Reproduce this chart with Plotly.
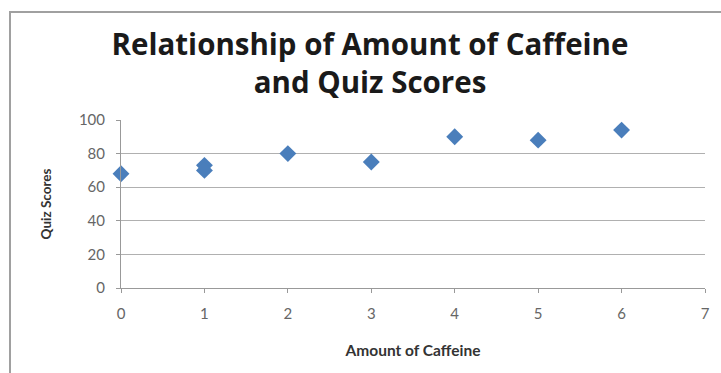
import plotly.graph_objects as go

caffeine = [0, 1, 1, 2, 3, 4, 5, 6]
scores = [68, 73, 70, 80, 75, 90, 88, 94]
x_ticks = [0, 1, 2, 3, 4, 5, 6, 7]
y_ticks = [0, 20, 40, 60, 80, 100]
title_text = "Relationship of Amount of Caffeine<br>and Quiz Scores"

W, H = 721, 373
ML, MR, MT, MB = 121, 16, 120, 85
plot_h = H - MT - MB
plot_w = W - ML - MR

fig = go.Figure()
fig.add_trace(go.Scatter(
    x=caffeine, y=scores, mode="markers",
    marker=dict(symbol="diamond", size=13, color="#4A7EBB"),
    cliponaxis=False,
    showlegend=False,
))

fig.update_layout(
    width=W, height=H,
    margin=dict(l=ML, r=MR, t=MT, b=MB),
    paper_bgcolor="white", plot_bgcolor="white",
    font=dict(family="Lato", color="#555"),
    title=dict(
        text="<b>" + title_text + "</b>",
        xref="paper", x=(370 - ML) / plot_w, xanchor="center",
        yref="container", y=1 - 55 / H, yanchor="middle",
        font=dict(family="Open Sans", size=29.5, color="#1a1a1a"),
    ),
    xaxis=dict(
        range=[0, 7], tickvals=x_ticks, showgrid=False, zeroline=False,
        showline=True, linecolor="#999", linewidth=1,
        ticks="outside", ticklen=4, tickcolor="#999",
        ticklabelstandoff=8,
        tickfont=dict(size=15, color="#666"),
        title=dict(text="<b>Amount of Caffeine</b>", font=dict(size=15.5, color="#333"), standoff=24),
    ),
    yaxis=dict(
        range=[0, 100], tickvals=y_ticks, showgrid=True, gridcolor="#b0b0b0", gridwidth=1.3,
        zeroline=False, showline=True, linecolor="#999", linewidth=1,
        ticks="outside", ticklen=4, tickcolor="#999",
        ticklabelstandoff=8,
        tickfont=dict(size=15, color="#666"),
        title=dict(text="<b>Quiz Scores</b>", font=dict(size=13.5, color="#333"), standoff=24),
    ),
    shapes=[dict(type="rect", xref="paper", yref="paper",
                 x0=(10 - ML) / plot_w, x1=1.2, y0=-1.0, y1=(288 - 12) / plot_h,
                 line=dict(color="#a0a0a0", width=2), fillcolor="rgba(0,0,0,0)", layer="below")],
)

fig.write_html("out.html")
